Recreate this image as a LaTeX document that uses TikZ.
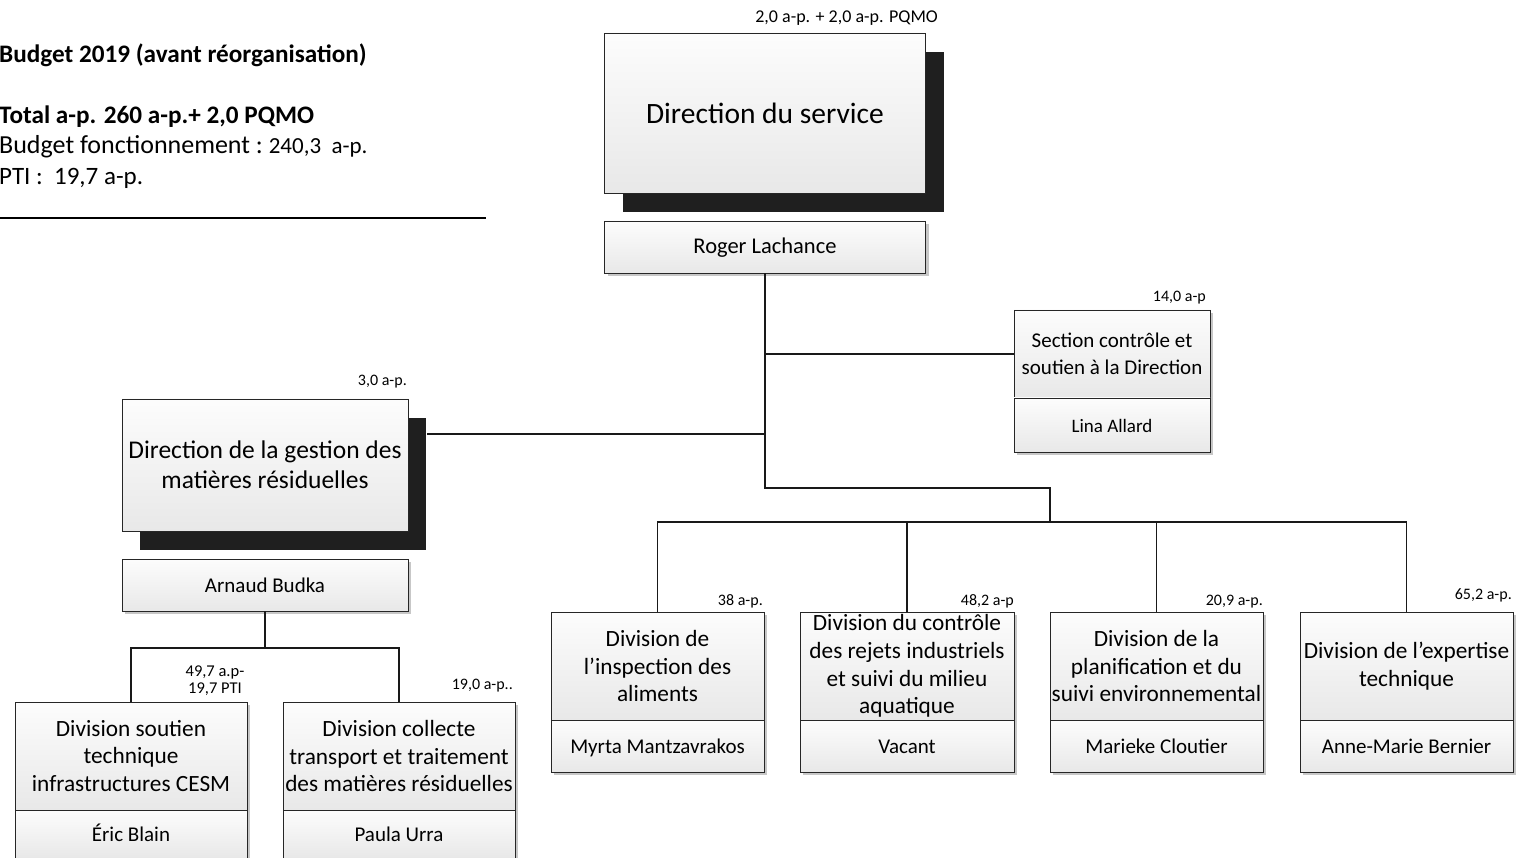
\documentclass[tikz,border=0pt]{standalone}
\usepackage{fontspec}
\setmainfont{Carlito}
\usetikzlibrary{shadows}
\newcommand\fsz[2]{\fontsize{#1}{#2}\selectfont}
\begin{document}
\begin{tikzpicture}[x=1pt,y=-1pt,
  box/.style={draw=black!85, line width=0.8pt, top color=black!1, bottom color=black!9,
    inner sep=0pt, align=center, font=\fsz{21}{27.5}},
  title/.style={font=\fsz{23.3}{27.7}},
  namebox/.style={text height=16pt, text depth=2pt},
  lightsh/.style={drop shadow={shadow xshift=3pt, shadow yshift=-3pt, fill=black!22, opacity=1}},
  darksh/.style={drop shadow={shadow xshift=18pt, shadow yshift=-19pt, fill=black!88, opacity=1}},
  lab/.style={font=\fsz{16}{18}, inner sep=0pt},
  hdr/.style={anchor=base west, inner sep=0pt},
  conn/.style={draw=black!90, line width=1.1pt}]
\useasboundingbox (0,0) rectangle (1518,858);
\fill[white] (0,0) rectangle (1518,858);

% header
\node[hdr, font=\bfseries\fsz{25.2}{28}] (h1) at (-1,63) {Budget 2019 (avant réorganisation)};
\node[hdr, font=\bfseries\fsz{25.2}{28}] (h2) at (-1,124) {Total a-p. 260 a-p.+ 2,0 PQMO};
\node[hdr, font=\fsz{26}{28}] (h3) at (-1,154) {Budget fonctionnement :~{\fsz{23}{24}240,3~~a-p.}};
\node[hdr, font=\fsz{25}{28}] (h4) at (-1,185) {PTI :~~19,7 a-p.};
\draw[line width=2pt] (0,218) -- (486,218);

% top
\node[box, darksh, minimum width=321pt, minimum height=160pt, font=\fsz{29.5}{34}] (dir) at (765,113) {Direction du service};
\node[lab, anchor=base east, font=\fsz{18}{20}] (ldir) at (938,23) {2,0 a-p. + 2,0 a-p. PQMO};
\node[box, lightsh, namebox, minimum width=321pt, minimum height=52pt, font=\fsz{22.5}{27}] (roger) at (765,247) {Roger Lachance};

% section
\node[box, lightsh, minimum width=196pt, minimum height=142pt] (secsh) at (1112,381) {};
\node[box, minimum width=196pt, minimum height=88pt] (sec) at (1112,354) {Section contrôle et\\soutien à la Direction};
\node[box, namebox, minimum width=196pt, minimum height=54pt, font=\fsz{19}{24}] (secn) at (1112,425) {Lina Allard};
\node[lab, anchor=base east] (lsec) at (1206,302) {14,0 a-p};

% DGMR
\node[box, darksh, minimum width=286pt, minimum height=132pt, font=\fsz{25.5}{30}] (dgmr) at (265,465) {Direction de la gestion des\\matières résiduelles};
\coordinate (dgmredge) at (427,434);
\node[lab, anchor=base east] (ldgmr) at (407,386) {3,0 a-p.};
\node[box, lightsh, namebox, minimum width=286pt, minimum height=52pt] (arnaud) at (265,585) {Arnaud Budka};

% DGMR divisions
\node[box, lightsh, minimum width=232pt, minimum height=164pt] (dssh) at (131,784) {};
\node[box, title, minimum width=232pt, minimum height=108pt] (ds) at (131,756) {Division soutien\\technique\\infrastructures CESM};
\node[box, namebox, minimum width=232pt, minimum height=48pt] (dsn) at (131,834) {Éric Blain};
\node[lab, align=center, font=\fsz{16.5}{17}] (lds) at (215,681) {49,7 a.p-\\19,7 PTI};

\node[box, lightsh, minimum width=232pt, minimum height=164pt] (dcsh) at (399,784) {};
\node[box, title, minimum width=232pt, minimum height=108pt] (dc) at (399,756) {Division collecte\\transport et traitement\\des matières résiduelles};
\node[box, namebox, minimum width=232pt, minimum height=48pt] (dcn) at (399,834) {Paula Urra};
\node[lab, anchor=base east] (ldc) at (513,689) {19,0 a-p..};

% four divisions
\foreach \n/\cx/\w in {1/657.5/213, 2/907/214, 3/1156.5/213, 4/1406.5/213}{
  \node[box, lightsh, minimum width=\w pt, minimum height=160pt] (d\n sh) at (\cx,692) {};
}
\node[box, title, minimum width=213pt, minimum height=108pt] (d1) at (657.5,666) {Division de\\l’inspection des\\aliments};
\node[box, namebox, minimum width=213pt, minimum height=52pt] (d1n) at (657.5,746) {Myrta Mantzavrakos};
\node[lab, anchor=base east] (ld1) at (763,605) {38 a-p.};

\node[box, title, minimum width=214pt, minimum height=108pt] (d2) at (907,666) {Division du contrôle\\des rejets industriels\\et suivi du milieu\\aquatique};
\node[box, namebox, minimum width=214pt, minimum height=52pt] (d2n) at (907,746) {Vacant};
\node[lab, anchor=base east] (ld2) at (1014,605) {48,2 a-p};

\node[box, title, minimum width=213pt, minimum height=108pt] (d3) at (1156.5,666) {Division de la\\planification et du\\suivi environnemental};
\node[box, namebox, minimum width=213pt, minimum height=52pt] (d3n) at (1156.5,746) {Marieke Cloutier};
\node[lab, anchor=base east] (ld3) at (1263,605) {20,9 a-p.};

\node[box, title, minimum width=213pt, minimum height=108pt] (d4) at (1406.5,666) {Division de l’expertise\\technique};
\node[box, namebox, minimum width=213pt, minimum height=52pt] (d4n) at (1406.5,746) {Anne-Marie Bernier};
\node[lab, anchor=base east] (ld4) at (1512,599) {65,2 a-p.};

% connectors
\coordinate (trunk) at (765,488);
\coordinate (bus) at (1050,522);
\coordinate (lbus) at (265,648);
\draw[conn] (roger.south) -- (trunk) -| (bus);
\draw[conn] (roger.south |- sec.west) -- (sec.west);
\draw[conn] (roger.south |- dgmredge) -- (dgmredge);
\draw[conn] (d1.north) |- (bus) -| (d4.north);
\draw[conn] (d2.north) -- (d2.north |- bus);
\draw[conn] (d3.north) -- (d3.north |- bus);
\draw[conn] (arnaud.south) -- (lbus);
\draw[conn] (ds.north) |- (lbus) -| (dc.north);
\end{tikzpicture}
\end{document}
